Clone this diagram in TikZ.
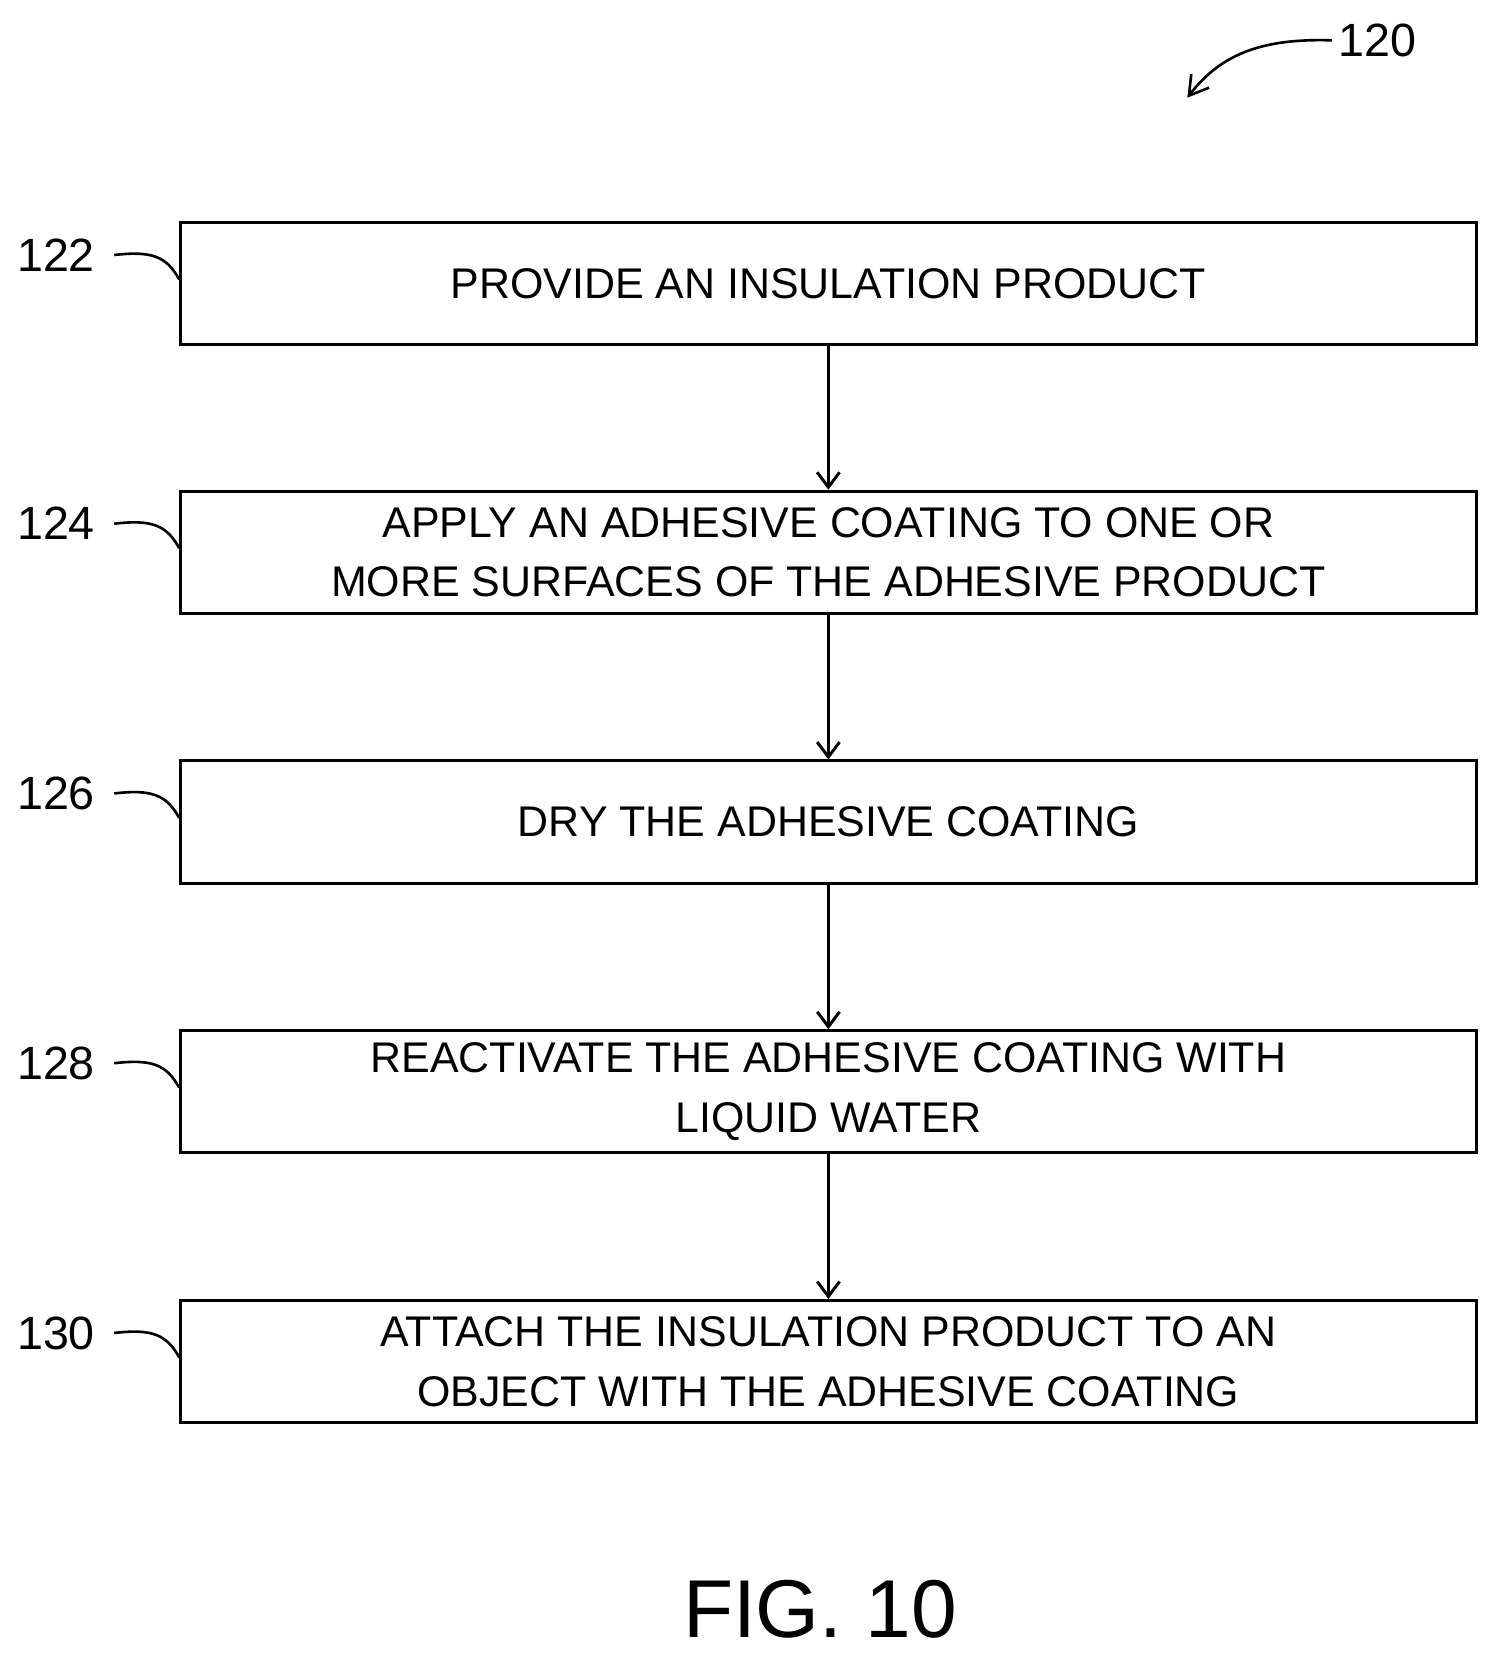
\documentclass[tikz,border=0pt]{standalone}
\usepackage{fontspec}
\setmainfont{Liberation Sans}
\usetikzlibrary{positioning,arrows.meta,calc}
\tikzset{
  stepbox/.style={draw, line width=1.6pt, minimum width=24.4cm, minimum height=2.3cm,
    align=center, font=\fontsize{23}{32}\selectfont},
  reflabel/.style={font=\fontsize{25}{30}\selectfont},
  flow/.style={line width=1.6pt, -{Straight Barb[length=8pt,width=12pt]}}
}
\begin{document}
\begin{tikzpicture}[x=0.02cm,y=-0.02cm]
    \useasboundingbox (0,0) rectangle (1410,1564);
    % steps
    \node[stepbox] (s1) at (780, 267){PROVIDE AN INSULATION PRODUCT};
    \node[stepbox] (s2) at (780, 520){APPLY AN ADHESIVE COATING TO ONE OR\\MORE SURFACES OF THE ADHESIVE PRODUCT};
    \node[stepbox] (s3) at (780, 774){DRY THE ADHESIVE COATING};
    \node[stepbox] (s4) at (780, 1028){REACTIVATE THE ADHESIVE COATING WITH\\LIQUID WATER};
    \node[stepbox] (s5) at (780, 1282){ATTACH THE INSULATION PRODUCT TO AN\\OBJECT WITH THE ADHESIVE COATING};
    \draw[flow] (s1) -- (s2);
    \draw[flow] (s2) -- (s3);
    \draw[flow] (s3) -- (s4);
    \draw[flow] (s4) -- (s5);
    % reference numerals
    \foreach \n/\s in {122/s1, 124/s2, 126/s3, 128/s4, 130/s5}{
        \node[reflabel] (l\n) at ($(\s.north west)+(-116,32)$){\n};
        \draw[line width=1.4pt] ($(l\n.east)+(12,0)$) .. controls +(35,-4) and +(-12,-22) .. ($(\s.north west)+(0,55)$);
    }
    \node[reflabel] (l120) at (1297, 38){120};
    \coordinate (a120) at (1118, 92);
    \draw[line width=1.4pt, -{Straight Barb[length=10pt,width=12pt]}] (l120.west) .. controls (1190,36) and (1150,50) .. (a120);
    \node[font=\fontsize{44}{50}\selectfont] (fig) at (772, 1515){FIG. 10};
\end{tikzpicture}
\end{document}
